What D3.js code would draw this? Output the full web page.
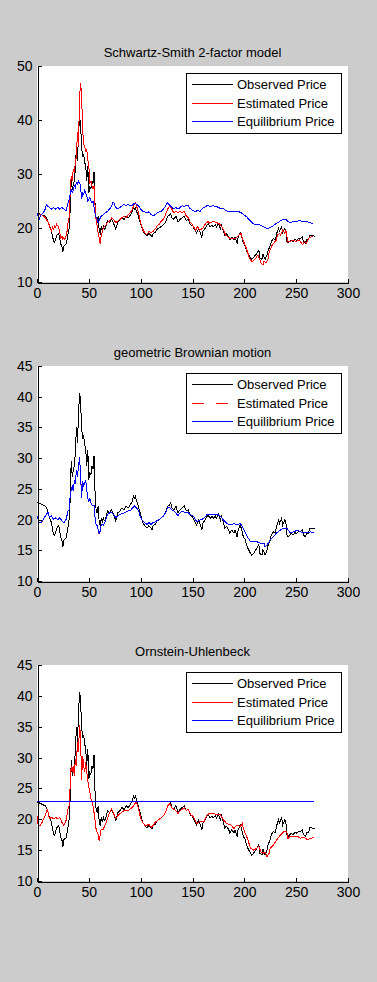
<!DOCTYPE html>
<html>
<head>
<meta charset="utf-8">
<script src="https://cdn.jsdelivr.net/npm/d3@7"></script>
<style>
  html, body { margin: 0; padding: 0; background: #cccccc; }
  svg { display: block; }
  text { font-family: "Liberation Sans", Arial, sans-serif; fill: #000; }
</style>
</head>
<body>
<svg id="fig"></svg>
<script>
// observed price, same in all three panels  [t, price]
const observed = [[0,22.8],[3,22.6],[5,22.4],[8,22.2],[10,21.6],[12,20.3],[14,19.5],[15,18.4],[16,17.6],[17,17.4],[19,18.6],[21,19.0],[23,17.0],[24,16.7],[25,15.6],[26,16.7],[28,17.0],[29,17.8],[30,18.9],[31,20.0],[32,23.3],[33,29.6],[34,27.0],[35,28.1],[36,28.7],[37,30.9],[38,35.0],[39,32.5],[40,36.8],[41,40.6],[42,39.5],[43,35.0],[44,33.3],[45,33.6],[46,32.2],[47,31.4],[48,28.7],[49,31.4],[50,26.5],[51,27.6],[52,27.3],[53,28.7],[54,28.2],[55,30.4],[56,24.4],[57,21.6],[58,21.1],[59,22.2],[60,19.5],[61,19.0],[62,20.3],[63,19.5],[64,20.3],[65,19.8],[66,20.0],[68,21.4],[70,21.1],[72,21.6],[74,20.8],[75,20.3],[76,19.8],[78,21.1],[80,21.4],[82,21.9],[84,21.6],[86,22.2],[88,21.9],[90,22.4],[92,23.0],[93,23.8],[94,23.5],[95,23.8],[96,23.0],[97,22.7],[98,21.9],[100,20.8],[102,19.5],[104,19.0],[106,18.6],[108,19.0],[110,18.6],[111,18.4],[112,19.0],[114,19.2],[116,19.8],[118,20.0],[120,20.3],[122,20.6],[124,21.1],[126,22.2],[128,22.4],[129,22.7],[130,21.9],[132,21.6],[134,22.2],[136,21.1],[138,21.6],[140,21.9],[142,22.2],[144,21.4],[146,21.6],[148,20.6],[150,20.5],[152,19.7],[154,19.1],[156,19.9],[157,19.4],[159,18.3],[160,19.4],[162,19.9],[165,20.8],[167,20.2],[169,20.5],[170,20.2],[172,20.6],[173,20.2],[175,20.8],[177,19.9],[178,20.5],[180,19.4],[181,18.6],[183,18.9],[185,18.3],[186,17.8],[188,18.3],[190,17.8],[191,18.3],[193,17.2],[194,18.3],[196,19.1],[197,18.6],[199,17.2],[201,16.7],[202,15.9],[204,15.1],[206,14.5],[207,14.2],[209,14.5],[210,14.8],[212,15.3],[214,15.9],[215,14.5],[217,14.2],[218,15.1],[220,14.2],[222,15.1],[223,15.9],[225,16.7],[226,17.5],[228,18.0],[230,17.8],[231,18.9],[233,19.9],[234,19.4],[236,20.2],[237,19.1],[239,19.9],[240,19.7],[241,17.5],[242,17.2],[244,17.5],[245,17.8],[247,17.5],[249,17.9],[250,17.7],[252,18.0],[254,18.0],[256,18.3],[257,17.5],[259,17.2],[260,17.8],[262,17.8],[263,18.6],[265,18.6],[268,18.5]];

// Schwartz-Smith
const ssEstimated = [[0,22.8],[2,22.5],[4,22.5],[6,22.2],[8,21.9],[10,21.3],[11,21.0],[12,20.4],[13,19.8],[14,19.4],[15,20.1],[16,19.8],[17,20.4],[18,20.1],[19,20.7],[20,20.4],[21,20.1],[22,19.1],[23,18.2],[24,18.5],[25,17.9],[26,18.2],[27,17.9],[28,18.5],[29,19.4],[30,21.0],[31,21.9],[32,26.5],[33,29.6],[34,28.7],[35,30.9],[36,30.2],[37,32.1],[38,33.3],[39,37.7],[40,35.2],[41,43.8],[42,46.9],[43,44.8],[44,38.3],[45,35.5],[46,35.2],[47,34.0],[48,34.6],[49,32.7],[50,31.5],[51,28.4],[52,28.7],[53,27.8],[54,27.2],[55,27.8],[56,24.1],[57,21.6],[58,20.4],[59,19.1],[60,18.2],[61,17.0],[62,18.8],[63,19.1],[64,20.1],[66,20.4],[68,21.0],[70,21.3],[72,21.9],[74,21.6],[76,21.0],[78,21.3],[80,21.6],[82,21.9],[84,22.2],[86,21.9],[88,22.5],[90,22.8],[92,23.5],[94,24.4],[95,24.7],[96,24.1],[98,22.8],[100,21.0],[102,19.8],[104,19.1],[106,18.8],[108,19.4],[110,19.1],[112,19.4],[114,19.8],[116,20.4],[118,20.7],[120,21.3],[122,21.6],[124,22.5],[126,23.5],[128,24.1],[130,23.5],[132,22.8],[134,23.1],[136,22.8],[138,23.1],[140,22.8],[142,23.1],[144,22.2],[146,21.9],[148,21.0],[150,20.6],[153,19.6],[155,20.3],[157,19.6],[160,20.0],[163,20.9],[165,21.2],[166,20.9],[170,21.2],[173,21.0],[176,20.8],[179,20.0],[182,18.7],[186,18.1],[189,18.1],[192,18.1],[195,18.7],[197,19.0],[198,18.1],[202,16.2],[205,14.4],[207,13.8],[208,13.8],[211,14.4],[213,15.0],[215,14.1],[216,13.5],[218,13.2],[219,13.8],[221,13.5],[223,14.4],[224,15.6],[227,16.9],[231,17.8],[232,18.7],[234,19.0],[235,18.7],[237,19.6],[239,19.0],[240,19.6],[242,17.5],[244,17.5],[247,17.8],[250,17.5],[253,17.8],[256,16.9],[258,17.5],[260,17.2],[263,18.3],[266,18.4]];
const ssEquilibrium = [[0,22.8],[2,21.6],[4,22.5],[6,22.8],[8,23.5],[9,24.4],[10,24.1],[12,23.8],[14,23.5],[16,23.8],[18,23.5],[20,23.8],[22,23.5],[24,23.8],[26,23.5],[28,23.1],[30,24.7],[31,25.3],[32,26.2],[33,27.2],[34,26.5],[35,26.9],[36,27.8],[37,27.5],[38,28.4],[39,28.1],[40,28.7],[41,28.4],[42,27.8],[43,25.3],[44,26.5],[45,26.2],[46,26.9],[47,26.5],[48,25.9],[49,25.0],[50,25.3],[51,25.6],[52,25.0],[53,24.7],[54,25.0],[55,23.8],[56,22.8],[57,21.9],[58,21.6],[59,21.0],[60,21.3],[61,21.9],[62,22.2],[64,22.5],[66,22.8],[68,23.1],[70,23.5],[72,24.1],[73,24.7],[74,24.7],[76,23.8],[78,23.5],[80,23.8],[82,24.1],[84,24.4],[86,24.1],[88,24.4],[90,24.1],[92,24.2],[94,24.6],[96,24.4],[98,24.1],[100,23.5],[102,23.1],[104,23.0],[106,22.8],[108,23.0],[110,22.5],[112,22.2],[114,22.5],[116,22.8],[118,23.0],[120,23.1],[122,23.5],[124,24.1],[126,24.7],[128,24.2],[130,23.8],[132,23.5],[134,23.8],[136,23.5],[138,23.8],[140,24.1],[142,24.0],[144,24.2],[146,24.1],[147,23.7],[150,23.3],[153,23.0],[155,23.3],[157,23.0],[160,23.7],[163,24.0],[165,24.3],[166,24.0],[170,24.1],[173,24.0],[176,23.7],[179,23.7],[182,23.2],[186,23.0],[189,23.0],[192,23.0],[195,23.0],[198,22.7],[202,22.1],[205,21.5],[208,20.9],[211,20.6],[215,20.6],[218,20.3],[221,20.0],[224,20.0],[227,20.3],[231,20.9],[234,21.2],[237,21.6],[240,21.6],[242,21.2],[244,21.0],[247,21.2],[250,21.2],[253,21.4],[256,21.2],[260,21.2],[263,21.0],[266,20.8]];

// geometric Brownian motion (estimated sits under equilibrium)
const gbmEquilibrium = [[0,20.6],[2,19.5],[4,19.5],[6,20.0],[8,20.6],[10,21.1],[11,21.1],[12,20.3],[14,20.6],[16,20.0],[18,20.3],[20,20.0],[22,20.3],[24,19.8],[26,19.5],[28,20.0],[30,21.4],[31,21.6],[32,23.8],[33,24.9],[34,25.4],[35,24.6],[36,26.3],[37,26.0],[38,28.1],[39,27.0],[40,28.7],[41,30.1],[42,27.6],[43,23.5],[44,26.3],[45,25.4],[46,26.0],[47,26.3],[48,24.9],[49,23.5],[50,23.0],[51,23.5],[52,22.7],[53,22.4],[54,22.2],[55,22.4],[56,20.3],[57,19.2],[58,19.0],[59,18.4],[60,17.6],[61,18.2],[62,19.2],[64,19.1],[66,19.8],[68,20.8],[70,21.1],[72,21.1],[74,20.8],[76,20.3],[78,20.6],[80,20.8],[84,21.1],[88,21.4],[90,21.4],[92,21.9],[94,22.2],[96,21.9],[98,21.4],[100,20.3],[102,19.8],[104,19.5],[106,19.2],[108,19.5],[110,19.2],[112,19.5],[114,19.6],[116,19.9],[118,20.0],[120,20.3],[122,20.6],[124,21.1],[126,21.9],[128,21.9],[130,21.6],[132,21.4],[134,21.1],[136,20.6],[138,21.1],[140,21.4],[142,21.2],[144,21.1],[146,21.1],[148,20.8],[151,20.5],[154,19.7],[157,19.9],[161,20.2],[164,20.8],[167,20.8],[170,20.9],[174,20.9],[177,20.5],[180,19.9],[183,19.4],[187,19.1],[190,19.4],[193,19.1],[196,19.4],[199,18.6],[203,17.2],[206,16.4],[209,16.4],[212,16.4],[216,16.1],[219,16.1],[220,15.6],[222,15.9],[225,16.7],[228,17.2],[231,17.8],[235,18.3],[238,18.6],[241,18.6],[244,17.9],[248,18.0],[251,18.3],[254,18.0],[257,17.9],[261,17.9],[264,18.0],[267,17.9]];
const gbmEstimated = gbmEquilibrium;

// Ornstein-Uhlenbeck
const ouEstimated = [[0,20.6],[1,19.2],[3,19.0],[5,19.5],[7,20.3],[9,21.1],[10,21.7],[12,20.1],[14,20.3],[16,20.1],[18,20.3],[20,20.1],[22,20.3],[24,19.5],[26,19.0],[28,19.8],[30,21.7],[31,22.2],[32,25.5],[33,28.7],[34,27.6],[35,28.7],[36,27.1],[37,29.8],[38,28.7],[39,32.5],[40,30.9],[41,35.2],[42,33.6],[43,26.3],[44,30.3],[45,28.7],[46,27.6],[47,29.2],[48,27.6],[49,26.3],[50,25.2],[51,24.4],[52,23.3],[53,23.0],[54,22.2],[55,21.1],[56,19.8],[57,18.4],[58,17.9],[59,17.6],[60,16.5],[61,17.6],[62,18.4],[64,18.4],[66,19.2],[68,20.1],[70,21.1],[72,21.7],[74,20.9],[76,20.1],[78,20.6],[80,20.9],[84,21.4],[88,21.4],[90,21.7],[92,21.9],[94,22.5],[96,22.8],[98,21.7],[100,20.1],[102,19.5],[104,19.0],[106,19.0],[108,19.2],[110,18.7],[112,19.0],[114,19.5],[116,19.8],[118,20.0],[120,20.3],[122,20.6],[124,21.1],[126,22.2],[128,22.5],[130,21.9],[132,21.6],[134,21.4],[136,20.9],[138,21.4],[140,21.6],[142,21.9],[144,21.4],[146,21.6],[148,20.8],[151,20.4],[154,19.3],[157,19.6],[161,19.6],[164,20.7],[167,21.0],[170,21.0],[174,20.7],[177,20.7],[180,19.9],[183,19.3],[187,19.1],[190,18.5],[193,19.1],[196,18.8],[198,19.3],[199,18.5],[203,16.9],[206,15.3],[209,15.0],[212,15.3],[214,15.6],[216,14.7],[219,14.5],[220,14.7],[222,13.9],[224,14.5],[225,15.3],[228,15.8],[231,16.6],[235,17.5],[238,18.0],[241,18.0],[242,16.9],[244,17.2],[248,17.2],[251,17.3],[254,16.9],[257,17.1],[261,16.7],[264,16.9],[267,17.1]];
const ouEquilibrium = [[0,22.9],[267,22.9]];

const legendLabels = ["Observed Price", "Estimated Price", "Equilibrium Price"];
const xTicks = [0, 50, 100, 150, 200, 250, 300];
const yTicks50 = [10, 20, 30, 40, 50];
const yTicks45 = [10, 15, 20, 25, 30, 35, 40, 45];

const W = 377, H = 982;
const left = 37, right = 348;

const panels = [
  { title: "Schwartz-Smith 2-factor model", top: 66, bottom: 282, yMax: 50, yTicks: yTicks50,
    series: [observed, ssEstimated, ssEquilibrium], dashed: false },
  { title: "geometric Brownian motion", top: 366, bottom: 581, yMax: 45, yTicks: yTicks45,
    series: [observed, gbmEstimated, gbmEquilibrium], dashed: true },
  { title: "Ornstein-Uhlenbeck", top: 665, bottom: 881, yMax: 45, yTicks: yTicks45,
    series: [observed, ouEstimated, ouEquilibrium], dashed: false }
];
const colors = ["#000000", "#ff0000", "#0000ff"];

const svg = d3.select("#fig").attr("width", W).attr("height", H);
svg.append("rect").attr("width", W).attr("height", H).attr("fill", "#cccccc");

const x = d3.scaleLinear().domain([0, 300]).range([left, right]);

panels.forEach(p => {
  const y = d3.scaleLinear().domain([10, p.yMax]).range([p.bottom, p.top]);
  const g = svg.append("g");

  // white plot area
  g.append("rect")
    .attr("x", left).attr("y", p.top)
    .attr("width", right - left).attr("height", p.bottom - p.top)
    .attr("fill", "#ffffff");

  // title
  g.append("text")
    .attr("x", (left + right) / 2).attr("y", p.top - 14)
    .attr("dy", "0.35em")
    .attr("text-anchor", "middle")
    .style("font-size", "13px")
    .text(p.title);

  // lines, drawn in plot order
  const line = d3.line().x(d => x(d[0])).y(d => y(d[1]));
  p.series.forEach((s, i) => {
    g.append("path")
      .datum(s)
      .attr("d", line)
      .attr("fill", "none")
      .attr("stroke", colors[i])
      .attr("stroke-width", 1)
      .attr("stroke-dasharray", (p.dashed && i === 1) ? "12,12" : null)
      .style("shape-rendering", "crispEdges");
  });

  // axes, ticks pointing inwards
  const xAxis = g.append("g")
    .attr("transform", `translate(0,${p.bottom + 0.5})`)
    .call(d3.axisBottom(x).tickValues(xTicks).tickSizeInner(-4).tickSizeOuter(0).tickPadding(6));
  const yAxis = g.append("g")
    .attr("transform", `translate(${left + 0.5},0)`)
    .call(d3.axisLeft(y).tickValues(p.yTicks).tickSizeInner(-4).tickSizeOuter(0).tickPadding(5));
  [xAxis, yAxis].forEach(a => {
    a.selectAll("path, line").attr("stroke", "#000").style("shape-rendering", "crispEdges");
    a.selectAll("text")
      .style("font-family", "'Liberation Sans', Arial, sans-serif")
      .style("font-size", "14px")
      .attr("fill", "#000");
  });

  // legend
  const lg = g.append("g").attr("transform", `translate(186,${p.top + 7})`);
  lg.append("rect")
    .attr("x", 0.5).attr("y", 0.5).attr("width", 155).attr("height", 60)
    .attr("fill", "#ffffff").attr("stroke", "#000").style("shape-rendering", "crispEdges");
  legendLabels.forEach((lab, i) => {
    const ly = 11.5 + i * 18.5;
    lg.append("line")
      .attr("x1", 6).attr("x2", 47).attr("y1", ly).attr("y2", ly)
      .attr("stroke", colors[i])
      .attr("stroke-dasharray", (p.dashed && i === 1) ? "12,12" : null)
      .style("shape-rendering", "crispEdges");
    lg.append("text")
      .attr("x", 51).attr("y", ly).attr("dy", "0.35em")
      .style("font-size", "13px")
      .text(lab);
  });
});
</script>
</body>
</html>
